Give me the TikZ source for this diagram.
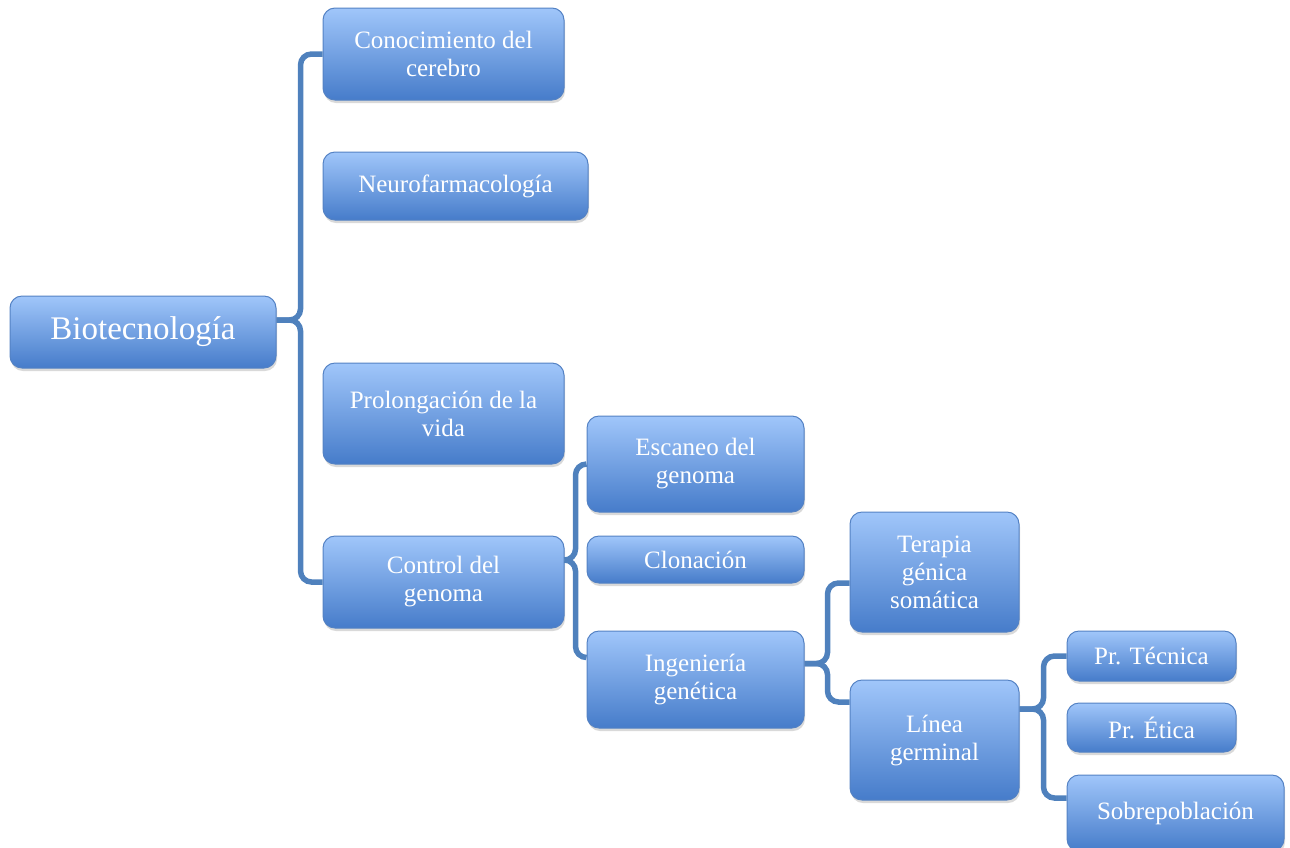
\documentclass[tikz,border=0pt]{standalone}
\usepackage{fontspec}
\setmainfont{Liberation Serif}
\usetikzlibrary{shadows}

\begin{document}
\begin{tikzpicture}[x=1pt, y=-1pt,
  box/.style={rounded corners=12pt, draw={rgb, 255:red, 84; green, 130; blue, 196}, line width=1pt,
    top color={rgb, 255:red, 160; green, 198; blue, 250}, bottom color={rgb, 255:red, 70; green, 124; blue, 202},
    drop shadow={shadow xshift=1pt, shadow yshift=-3pt, opacity=0.3},
    text=white, align=center, inner sep=0pt, font=\fontsize{25}{28}\selectfont},
  link/.style={line width=5.5pt, draw={rgb, 255:red, 79; green, 129; blue, 189}, rounded corners=11pt}]
\useasboundingbox (0,0) rectangle (1290,847);

\node (bio) at (143,332) [box, minimum width=266, minimum height=72, font=\fontsize{33}{38}\selectfont] {Biotecnología};

\node (cono) at (443.5,54) [box, minimum width=241, minimum height=92] {Conocimiento del\\cerebro};
\node (neuro) at (455.5,186) [box, minimum width=265, minimum height=68] {Neurofarmacología};
\node (prolo) at (443.5,413.5) [box, minimum width=241, minimum height=101] {Prolongación de la\\vida};
\node (ctrl) at (443.5,582) [box, minimum width=241, minimum height=92] {Control del\\genoma};

\node (esca) at (695.5,464) [box, minimum width=217, minimum height=96] {Escaneo del\\genoma};
\node (clon) at (695.5,559.5) [box, minimum width=217, minimum height=47] {Clonación};
\node (inge) at (695.5,679.5) [box, minimum width=217, minimum height=97] {Ingeniería\\genética};

\node (tera) at (934.5,572) [box, minimum width=169, minimum height=120] {Terapia\\génica\\somática};
\node (linea) at (934.5,740) [box, minimum width=169, minimum height=120] {Línea\\germinal};

\node (prtec) at (1151.5,656) [box, minimum width=169, minimum height=50] {Pr. Técnica};
\node (pretic) at (1151.5,727.5) [box, minimum width=169, minimum height=49] {Pr. Ética};
\node (sobre) at (1175.5,813) [box, minimum width=217, minimum height=76] {Sobrepoblación};

\draw [link] ([yshift=12pt]bio.east) -- ++(24,0) |- (cono.west);
\draw [link] ([yshift=12pt]bio.east) -- ++(24,0) |- (ctrl.west);

\draw [link] ([yshift=22pt]ctrl.east) -- ++(11,0) |- (esca.west);
\draw [link] ([yshift=22pt]ctrl.east) -- ++(11,0) |- ([yshift=22pt]inge.west);

\draw [link] ([yshift=16pt]inge.east) -- ++(23,0) |- ([yshift=-11pt]tera.west);
\draw [link] ([yshift=16pt]inge.east) -- ++(23,0) |- ([yshift=38pt]linea.west);

\draw [link] ([yshift=31pt]linea.east) -- ++(24,0) |- (prtec.west);
\draw [link] ([yshift=31pt]linea.east) -- ++(24,0) |- ([yshift=15pt]sobre.west);
\end{tikzpicture}
\end{document}
